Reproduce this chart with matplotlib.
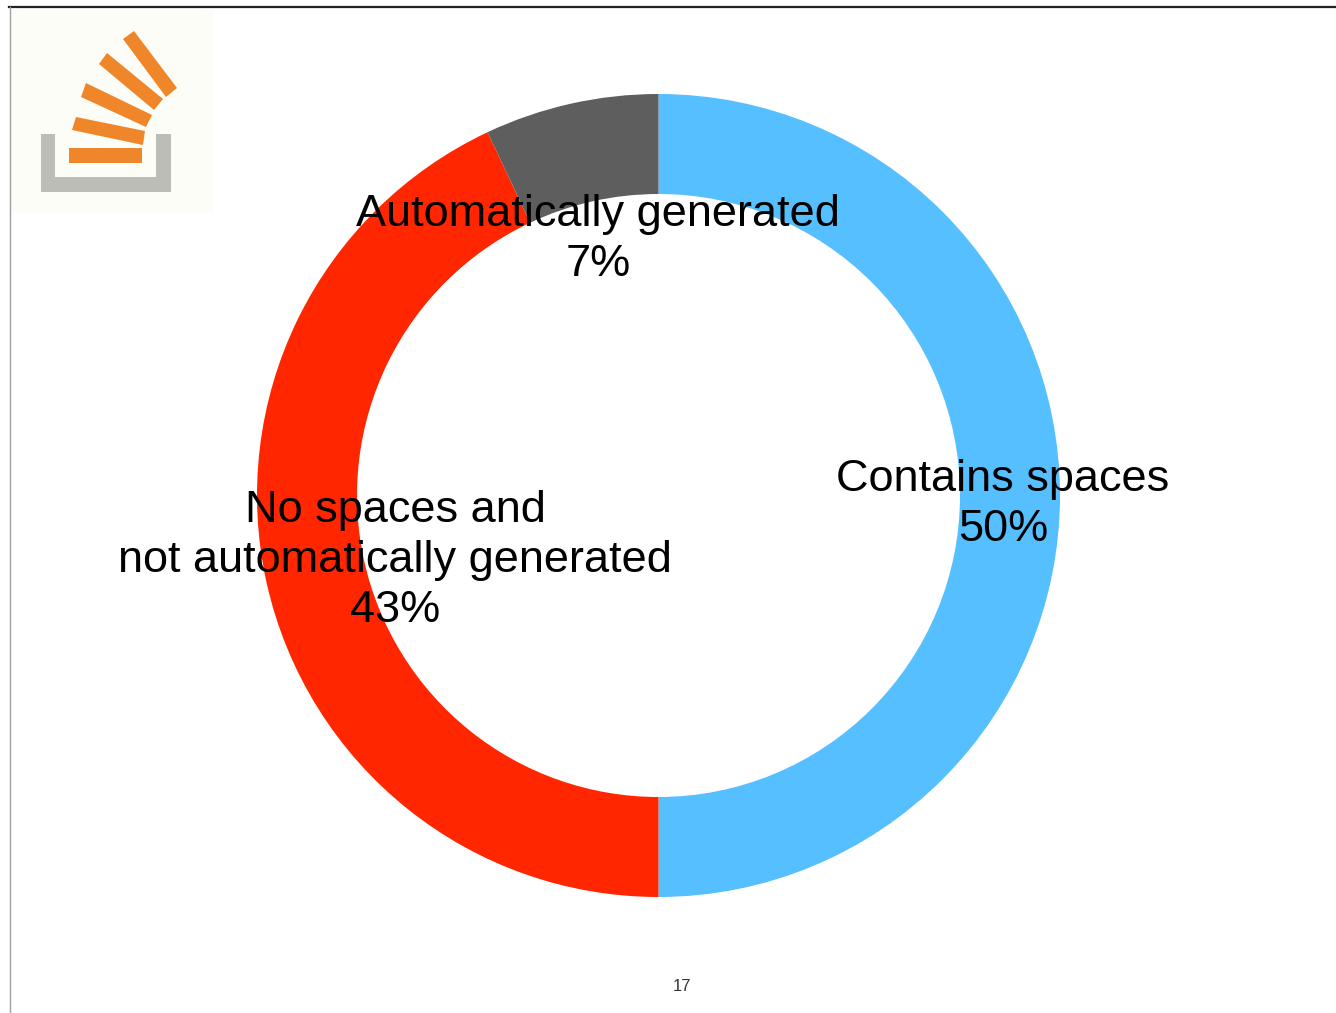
import matplotlib.pyplot as plt
from matplotlib.patches import Rectangle, Polygon

# Share of names by category
labels = ["Contains spaces", "No spaces and\nnot automatically generated", "Automatically generated"]
shares = [50, 43, 7]
colors = ["#56BFFF", "#FF2600", "#5E5E5E"]

# where each label sits (pie data coords)
label_pos = [(0.858, -0.022), (-0.656, -0.162), (-0.151, 0.638)]

W, H = 1336, 1013
fig = plt.figure(figsize=(W / 100, H / 100), dpi=100)
plt.rcParams["font.family"] = ["Liberation Sans", "DejaVu Sans"]

# background layer in pixel units
bg = fig.add_axes([0, 0, 1, 1])
bg.set_xlim(0, W)
bg.set_ylim(H, 0)
bg.axis("off")

# slide frame
bg.plot([9, W], [7, 7], color="#222222", lw=1.6)
bg.plot([10, 10], [7, H], color="#A0A0A0", lw=1.0)

# logo
bg.add_patch(Rectangle((11, 10), 202, 203, color="#FDFDF7", lw=0))
tray = "#BCBDB7"
bg.add_patch(Rectangle((41, 134), 14, 58, color=tray, lw=0))
bg.add_patch(Rectangle((156, 134), 15, 58, color=tray, lw=0))
bg.add_patch(Rectangle((41, 177), 130, 15, color=tray, lw=0))
orange = "#F0862A"
bg.add_patch(Rectangle((69, 148), 73, 15, color=orange, lw=0))
bars = [
    [(76, 117), (145, 131), (143, 145), (72, 130)],
    [(86, 83), (152, 115), (146, 127), (81, 97)],
    [(107, 53), (163, 99), (154, 110), (99, 64)],
    [(134, 31), (177, 88), (166, 97), (123, 39)],
]
for b in bars:
    bg.add_patch(Polygon(b, closed=True, color=orange, lw=0))

# page number
bg.text(682, 986, "17", ha="center", va="center", fontsize=12, color="#333333")

# donut
cx, cy, r = 658.5, 495.5, 401.5
ax = fig.add_axes([(cx - r) / W, 1 - (cy + r) / H, 2 * r / W, 2 * r / H])
ax.pie(shares, colors=colors, startangle=90, counterclock=False,
       wedgeprops=dict(width=100 / r, linewidth=0))
ax.set_xlim(-1, 1)
ax.set_ylim(-1, 1)
ax.set_aspect("auto")

for name, val, (x, y) in zip(labels, shares, label_pos):
    ax.text(x, y, f"{name}\n{val}%", ha="center", va="center",
            fontsize=32.5, color="black", linespacing=1.29, multialignment="center")

fig.savefig("out.png", dpi=100)
